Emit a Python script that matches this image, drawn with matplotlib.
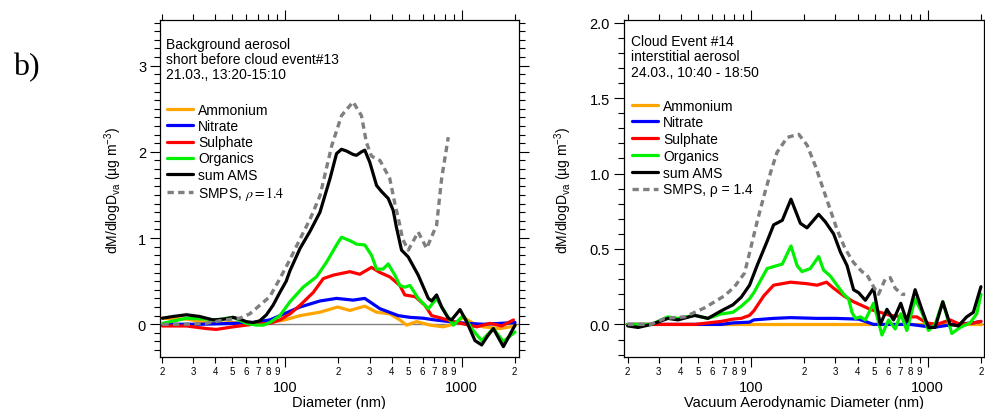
import matplotlib
matplotlib.use("Agg")
import matplotlib.pyplot as plt
from matplotlib.ticker import LogLocator, FuncFormatter, MultipleLocator
import numpy as np

plt.rcParams['font.family'] = ['Liberation Sans', 'DejaVu Sans']
plt.rcParams['mathtext.fontset'] = 'custom'
plt.rcParams['mathtext.rm'] = 'Liberation Sans'
plt.rcParams['mathtext.it'] = 'Liberation Sans:italic'
plt.rcParams['mathtext.bf'] = 'Liberation Sans:bold'

# ---------------- Panel 1: background aerosol (event #13) ----------------
bg_nh4_d = [20, 27.4, 38.8, 50.4, 62.7, 81.5, 99, 121, 157, 198, 232, 282, 329, 391, 446, 487, 555, 661, 787, 897, 1022, 1165, 1328, 1652, 2010]
bg_nh4 = [0.07, 0.06, 0.01, 0.02, 0.0, 0.02, 0.05, 0.10, 0.14, 0.20, 0.16, 0.21, 0.14, 0.12, 0.05, -0.01, 0.03, -0.01, -0.03, 0.0, 0.08, 0.01, -0.03, -0.05, -0.02]

bg_no3_d = [20, 32.6, 50.4, 65.5, 81.5, 93, 106, 121, 157, 195, 242, 282, 344, 437, 509, 606, 705, 859, 1068, 1328, 1652, 2010]
bg_no3 = [0.0, 0.0, 0.01, 0.02, 0.05, 0.10, 0.15, 0.20, 0.27, 0.30, 0.28, 0.30, 0.18, 0.10, 0.08, 0.07, 0.05, 0.03, 0.01, 0.0, 0.01, 0.02]

bg_so4_d = [20, 27.4, 35.6, 40.5, 50.4, 65.5, 81.5, 93, 106, 121, 144, 164, 187, 232, 264, 308, 344, 391, 418, 446, 476, 545, 619, 676, 770, 897, 1045, 1219, 1450, 1689, 1969]
bg_so4 = [-0.02, -0.02, -0.05, -0.06, -0.03, 0.0, 0.01, 0.05, 0.12, 0.22, 0.37, 0.53, 0.57, 0.61, 0.58, 0.66, 0.60, 0.55, 0.50, 0.45, 0.34, 0.32, 0.22, 0.10, 0.07, 0.03, 0.0, -0.03, 0.01, -0.02, 0.05]

bg_org_d = [20, 27.4, 35, 40.5, 50.4, 60, 68.4, 75, 81.5, 93, 106, 126, 150, 171, 195, 208, 232, 253, 282, 308, 329, 358, 383, 418, 446, 476, 509, 567, 647, 721, 804, 897, 1022, 1140, 1300, 1514, 1726, 2010]
bg_org = [0.01, 0.07, 0.06, 0.05, 0.08, 0.01, -0.01, -0.01, 0.02, 0.10, 0.26, 0.43, 0.55, 0.72, 0.92, 1.01, 0.97, 0.93, 0.92, 0.80, 0.64, 0.64, 0.70, 0.57, 0.45, 0.43, 0.45, 0.30, 0.18, 0.30, 0.14, -0.01, 0.10, -0.05, -0.19, -0.05, -0.20, -0.09]

bg_sum_d = [20, 23, 27.4, 32.6, 38.8, 45, 50.4, 55, 60, 65.5, 71.5, 78, 85, 93, 101, 106, 121, 138, 157, 179, 195, 208, 222, 242, 253, 270, 282, 301, 329, 351, 383, 409, 427, 456, 498, 567, 647, 676, 721, 770, 840, 877, 979, 1068, 1191, 1300, 1400, 1514, 1726, 2010]
bg_sum = [0.07, 0.09, 0.11, 0.09, 0.05, 0.06, 0.08, 0.06, 0.03, 0.02, 0.04, 0.11, 0.22, 0.37, 0.50, 0.62, 0.88, 1.08, 1.30, 1.69, 1.98, 2.03, 2.01, 1.97, 1.96, 2.0, 2.02, 1.88, 1.61, 1.54, 1.46, 1.32, 1.12, 0.86, 0.78, 0.57, 0.30, 0.27, 0.34, 0.20, 0.07, 0.05, 0.17, 0.03, -0.19, -0.24, -0.14, -0.05, -0.26, -0.01]

bg_smps_d = [20, 27.4, 35, 45, 55, 62.7, 71.5, 81.5, 93, 106, 121, 138, 157, 183, 208, 242, 270, 288, 308, 344, 391, 418, 446, 462, 498, 567, 633, 721, 770, 840]
bg_smps = [0.0, 0.0, 0.01, 0.05, 0.07, 0.12, 0.22, 0.32, 0.53, 0.75, 0.99, 1.22, 1.49, 2.07, 2.42, 2.58, 2.42, 2.11, 1.95, 1.90, 1.69, 1.40, 1.15, 0.99, 0.86, 1.07, 0.88, 1.15, 1.69, 2.17]

# ---------------- Panel 2: cloud event #14 interstitial ----------------
ce_nh4_d = [20, 50, 100, 200, 500, 1000, 2000]
ce_nh4 = [0.0, 0.0, 0.0, 0.0, 0.0, 0.0, 0.0]

ce_no3_d = [20, 56.9, 67.7, 78.8, 97.9, 103.5, 134, 167, 236, 300, 406, 443, 493, 613, 800, 1077, 1394, 1811, 2000]
ce_no3 = [0.0, 0.0, 0.0, 0.01, 0.015, 0.03, 0.04, 0.045, 0.04, 0.04, 0.035, 0.02, 0.0, 0.0, 0.0, -0.02, 0.0, 0.01, 0.02]

ce_so4_d = [20, 47.9, 56.9, 67.7, 78.8, 87.8, 97.9, 103.5, 118, 134, 167, 207, 236, 267, 293, 334, 380, 415, 472, 538, 613, 729, 867, 986, 1124, 1337, 1524, 1811, 2000]
ce_so4 = [0.0, 0.0, 0.01, 0.02, 0.035, 0.04, 0.06, 0.09, 0.19, 0.26, 0.28, 0.27, 0.26, 0.28, 0.24, 0.19, 0.15, 0.13, 0.10, 0.08, 0.06, 0.05, 0.05, 0.01, 0.0, 0.03, 0.0, 0.01, 0.02]

ce_org_d = [20, 27.2, 33.8, 38.5, 47.9, 56.9, 67.7, 78.8, 87.8, 97.9, 103.5, 123, 140, 150, 168, 182, 194, 216, 241, 257, 281, 306, 334, 356, 372, 389, 415, 443, 493, 550, 600, 654, 703, 761, 848, 925, 1009, 1100, 1216, 1368, 1524, 1735, 1893, 2000]
ce_org = [0.0, 0.0, 0.05, 0.04, 0.06, 0.04, 0.07, 0.08, 0.12, 0.17, 0.21, 0.37, 0.39, 0.40, 0.52, 0.39, 0.35, 0.37, 0.45, 0.36, 0.32, 0.26, 0.20, 0.17, 0.08, 0.04, 0.05, 0.03, 0.14, -0.07, 0.03, -0.03, 0.07, -0.04, 0.17, 0.08, -0.04, 0.0, 0.15, -0.06, -0.02, 0.01, 0.07, 0.20]

ce_sum_d = [20, 22.9, 27.2, 33.8, 38.5, 47.9, 56.9, 67.7, 78.8, 87.8, 97.9, 108, 123, 134, 150, 168, 190, 207, 241, 263, 293, 320, 349, 380, 406, 443, 493, 538, 587, 640, 703, 761, 848, 925, 1009, 1100, 1216, 1337, 1490, 1660, 1811, 2000]
ce_sum = [-0.01, -0.02, 0.0, 0.04, 0.03, 0.06, 0.04, 0.09, 0.13, 0.18, 0.26, 0.39, 0.55, 0.66, 0.69, 0.83, 0.67, 0.64, 0.73, 0.68, 0.60, 0.48, 0.39, 0.23, 0.21, 0.16, 0.24, 0.0, 0.10, 0.03, 0.14, 0.02, 0.23, 0.10, -0.02, -0.02, 0.15, 0.0, -0.01, 0.05, 0.08, 0.25]

ce_smps_d = [20, 27, 32.4, 42, 47.9, 54.5, 62.1, 70.7, 80.5, 91.7, 99.1, 108, 118, 129, 140, 160, 186, 207, 231, 252, 275, 306, 341, 380, 424, 452, 493, 526, 574, 613, 654, 713, 745]
ce_smps = [0.0, 0.0, 0.04, 0.05, 0.08, 0.11, 0.15, 0.19, 0.25, 0.34, 0.50, 0.68, 0.85, 1.01, 1.14, 1.24, 1.26, 1.19, 1.05, 0.92, 0.79, 0.63, 0.50, 0.41, 0.35, 0.33, 0.25, 0.20, 0.30, 0.31, 0.24, 0.20, 0.20]

series_names = ["Ammonium", "Nitrate", "Sulphate", "Organics", "sum AMS"]
series_colors = ["#FFA500", "#0000FF", "#FF0000", "#00F000", "#000000"]

W, H = 985, 410
fig = plt.figure(figsize=(W / 100, H / 100), dpi=100)


def px_axes(l, t, r, b):
    return fig.add_axes([l / W, 1 - b / H, (r - l) / W, (b - t) / H])


def minor_fmt(v, pos):
    e = np.floor(np.log10(v) + 1e-9)
    m = v / 10 ** e
    return "%d" % int(round(m))


def style_axis(ax, xlim, ylim, ymaj, ymin, yfmt):
    ax.set_xscale('log')
    ax.set_xlim(*xlim)
    ax.set_ylim(*ylim)
    ax.xaxis.set_major_locator(LogLocator(base=10, numticks=10))
    ax.xaxis.set_minor_locator(LogLocator(base=10, subs=np.arange(2, 10), numticks=20))
    ax.xaxis.set_major_formatter(FuncFormatter(lambda v, p: "%d" % int(round(v))))
    ax.xaxis.set_minor_formatter(FuncFormatter(minor_fmt))
    ax.yaxis.set_major_locator(MultipleLocator(ymaj))
    ax.yaxis.set_minor_locator(MultipleLocator(ymin))
    ax.yaxis.set_major_formatter(FuncFormatter(yfmt))
    ax.tick_params(which='both', direction='out', top=True, right=True,
                   width=0.8, color='black')
    ax.tick_params(which='major', length=7.5)
    ax.tick_params(which='minor', length=4)
    ax.tick_params(axis='x', which='major', labelsize=10.5, pad=9)
    ax.tick_params(axis='x', which='minor', labelsize=7, pad=2.5)
    ax.tick_params(axis='y', which='major', labelsize=10.5, pad=2.5)
    for s in ax.spines.values():
        s.set_linewidth(0.9)
    ax.axhline(0, color='#808080', lw=1.0, zorder=1)


def draw(ax, data, smps_d, smps, smps_label):
    for (d, v), name, col in zip(data, series_names, series_colors):
        ax.plot(d, v, color=col, lw=2.3, label=name, zorder=3,
                solid_joinstyle='round', solid_capstyle='round')
    ax.plot(smps_d, smps, color='#7f7f7f', lw=2.4, ls=(0, (1.9, 1.3)),
            label=smps_label, zorder=4)


# ---------------- left panel ----------------
ax1 = px_axes(160, 21, 519, 358)
style_axis(ax1, (19.4, 2117), (-0.38, 3.53), 1, 0.1, lambda v, p: "%d" % int(round(v)))
draw(ax1, [(bg_nh4_d, bg_nh4), (bg_no3_d, bg_no3), (bg_so4_d, bg_so4),
           (bg_org_d, bg_org), (bg_sum_d, bg_sum)],
     bg_smps_d, bg_smps, r"SMPS, $\rho = 1.4$")
ax1.text(0.017, 0.949, "Background aerosol\nshort before cloud event#13\n21.03., 13:20-15:10",
         transform=ax1.transAxes, ha='left', va='top', fontsize=10, linespacing=1.08)
leg1 = ax1.legend(loc='upper left', bbox_to_anchor=(0.019, 0.753), frameon=False,
                  borderpad=0, borderaxespad=0, handlelength=1.85, handletextpad=0.4,
                  labelspacing=0.15, fontsize=10)
for t in leg1.get_texts():
    t.set_math_fontfamily('stix')

# ---------------- right panel ----------------
ax2 = px_axes(624, 21, 984, 358)
style_axis(ax2, (19.05, 2081), (-0.216, 2.018), 0.5, 0.1, lambda v, p: "%.1f" % v)
draw(ax2, [(ce_nh4_d, ce_nh4), (ce_no3_d, ce_no3), (ce_so4_d, ce_so4),
           (ce_org_d, ce_org), (ce_sum_d, ce_sum)],
     ce_smps_d, ce_smps, "SMPS, \u03c1 = 1.4")
ax2.text(0.019, 0.958, "Cloud Event #14\ninterstitial aerosol\n24.03., 10:40 - 18:50",
         transform=ax2.transAxes, ha='left', va='top', fontsize=10, linespacing=1.12)
ax2.legend(loc='upper left', bbox_to_anchor=(0.022, 0.767), frameon=False,
           borderpad=0, borderaxespad=0, handlelength=1.85, handletextpad=0.4,
           labelspacing=0.2, fontsize=10)

ylab = "dM/dlogD$_{\\mathrm{va}}$ (\u00b5g m$^{-3}$)"
fig.text(113 / W, 1 - 190 / H, ylab, rotation=90, ha='center', va='center', fontsize=10)
fig.text(563 / W, 1 - 190 / H, ylab, rotation=90, ha='center', va='center', fontsize=10)
fig.text(339 / W, 1 - 403 / H, "Diameter (nm)", ha='center', va='center', fontsize=10.5)
fig.text(804 / W, 1 - 403 / H, "Vacuum Aerodynamic Diameter (nm)", ha='center', va='center', fontsize=10.5)
fig.text(13 / W, 1 - 68 / H, "b)", family=['Liberation Serif', 'DejaVu Serif'],
         fontsize=23, ha='left', va='center')

fig.savefig("out.png", dpi=100, facecolor='white')
